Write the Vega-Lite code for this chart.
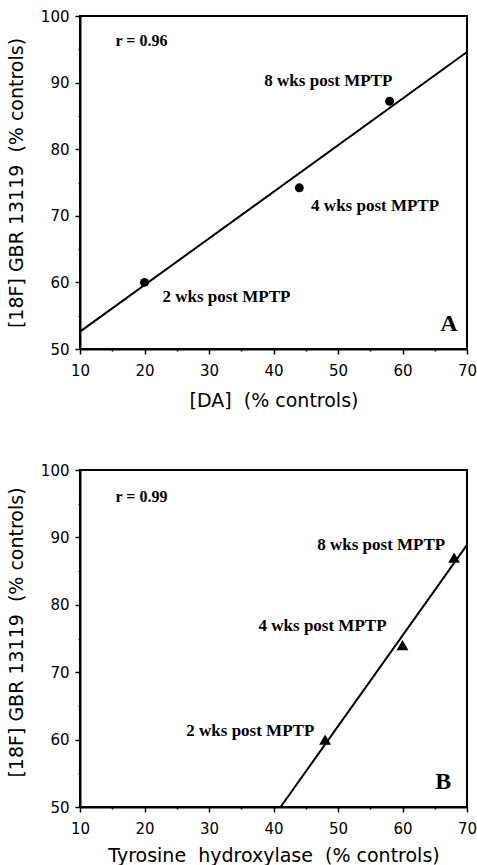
{
  "$schema": "https://vega.github.io/schema/vega-lite/v6.json",
  "background": "white",
  "padding": {"left": 6, "top": 8, "right": 4, "bottom": 1},
  "spacing": 51,
  "datasets": {
    "fitA": [{"x": 10, "y": 52.6}, {"x": 70, "y": 94.6}],
    "ptsA": [{"x": 20, "y": 60}, {"x": 44, "y": 74.2}, {"x": 58, "y": 87.2}],
    "labA": [
      {"x": 48.5, "y": 90.2, "label": "8 wks post MPTP"},
      {"x": 55.75, "y": 71.5, "label": "4 wks post MPTP"},
      {"x": 32.7, "y": 57.8, "label": "2 wks post MPTP"}
    ],
    "rA": [{"x": 15.5, "y": 96.2, "label": "r = 0.96"}],
    "letA": [{"x": 67.2, "y": 53.7, "label": "A"}],
    "fitB": [{"x": 41.1, "y": 50}, {"x": 70, "y": 88.9}],
    "ptsB": [{"x": 48, "y": 60}, {"x": 60, "y": 74}, {"x": 68, "y": 87}],
    "labB": [
      {"x": 56.7, "y": 88.8, "label": "8 wks post MPTP"},
      {"x": 47.6, "y": 76.9, "label": "4 wks post MPTP"},
      {"x": 36.4, "y": 61.3, "label": "2 wks post MPTP"}
    ],
    "rB": [{"x": 15.5, "y": 96.0, "label": "r = 0.99"}],
    "letB": [{"x": 66.3, "y": 53.7, "label": "B"}]
  },
  "vconcat": [
    {
      "width": 387,
      "height": 333,
      "encoding": {
        "x": {
          "field": "x", "type": "quantitative",
          "scale": {"domain": [10, 70], "nice": false, "zero": false},
          "axis": {
            "title": "[DA]\u00a0\u00a0(% controls)",
            "values": [10, 15, 20, 25, 30, 35, 40, 45, 50, 55, 60, 65, 70],
            "labelExpr": "datum.value % 10 === 0 ? datum.label : ''",
            "tickSize": {"condition": {"test": "datum.value % 10 !== 0", "value": 2}, "value": 5},
            "labelPadding": 9,
            "titlePadding": 13
          }
        },
        "y": {
          "field": "y", "type": "quantitative",
          "scale": {"domain": [50, 100], "nice": false, "zero": false},
          "axis": {
            "title": "[18F] GBR 13119\u00a0\u00a0(% controls)",
            "values": [50, 55, 60, 65, 70, 75, 80, 85, 90, 95, 100],
            "labelExpr": "datum.value % 10 === 0 ? datum.label : ''",
            "tickSize": {"condition": {"test": "datum.value % 10 !== 0", "value": 2}, "value": 5},
            "labelPadding": 6,
            "titlePadding": 14
          }
        }
      },
      "layer": [
        {"data": {"name": "fitA"}, "mark": {"type": "line", "color": "black", "strokeWidth": 2}},
        {"data": {"name": "ptsA"}, "mark": {"type": "point", "shape": "circle", "filled": true, "color": "black", "opacity": 1, "size": 80}},
        {"data": {"name": "labA"}, "mark": {"type": "text", "font": "Liberation Serif", "fontWeight": "bold", "fontSize": 17, "color": "black", "align": "center", "baseline": "middle"}, "encoding": {"text": {"field": "label"}}},
        {"data": {"name": "rA"}, "mark": {"type": "text", "font": "Liberation Serif", "fontWeight": "bold", "fontSize": 16, "color": "black", "align": "left", "baseline": "middle"}, "encoding": {"text": {"field": "label"}}},
        {"data": {"name": "letA"}, "mark": {"type": "text", "font": "Liberation Serif", "fontWeight": "bold", "fontSize": 24, "color": "black", "align": "center", "baseline": "middle"}, "encoding": {"text": {"field": "label"}}}
      ]
    },
    {
      "width": 387,
      "height": 337,
      "encoding": {
        "x": {
          "field": "x", "type": "quantitative",
          "scale": {"domain": [10, 70], "nice": false, "zero": false},
          "axis": {
            "title": "Tyrosine\u00a0\u00a0hydroxylase\u00a0\u00a0(% controls)",
            "values": [10, 15, 20, 25, 30, 35, 40, 45, 50, 55, 60, 65, 70],
            "labelExpr": "datum.value % 10 === 0 ? datum.label : ''",
            "tickSize": {"condition": {"test": "datum.value % 10 !== 0", "value": 2}, "value": 5},
            "labelPadding": 9,
            "titlePadding": 10
          }
        },
        "y": {
          "field": "y", "type": "quantitative",
          "scale": {"domain": [50, 100], "nice": false, "zero": false},
          "axis": {
            "title": "[18F] GBR 13119\u00a0\u00a0(% controls)",
            "titleY": 162,
            "values": [50, 55, 60, 65, 70, 75, 80, 85, 90, 95, 100],
            "labelExpr": "datum.value % 10 === 0 ? datum.label : ''",
            "tickSize": {"condition": {"test": "datum.value % 10 !== 0", "value": 2}, "value": 5},
            "labelPadding": 6,
            "titlePadding": 14
          }
        }
      },
      "layer": [
        {"data": {"name": "fitB"}, "mark": {"type": "line", "color": "black", "strokeWidth": 2}},
        {"data": {"name": "ptsB"}, "mark": {"type": "point", "shape": "triangle-up", "filled": true, "color": "black", "opacity": 1, "size": 140}},
        {"data": {"name": "labB"}, "mark": {"type": "text", "font": "Liberation Serif", "fontWeight": "bold", "fontSize": 17, "color": "black", "align": "center", "baseline": "middle"}, "encoding": {"text": {"field": "label"}}},
        {"data": {"name": "rB"}, "mark": {"type": "text", "font": "Liberation Serif", "fontWeight": "bold", "fontSize": 16, "color": "black", "align": "left", "baseline": "middle"}, "encoding": {"text": {"field": "label"}}},
        {"data": {"name": "letB"}, "mark": {"type": "text", "font": "Liberation Serif", "fontWeight": "bold", "fontSize": 24, "color": "black", "align": "center", "baseline": "middle"}, "encoding": {"text": {"field": "label"}}}
      ]
    }
  ],
  "config": {
    "view": {"stroke": "black", "strokeWidth": 2},
    "axis": {
      "grid": false,
      "domainColor": "black",
      "domainWidth": 2,
      "tickColor": "black",
      "tickWidth": 1.5,
      "labelFont": "DejaVu Sans",
      "labelFontSize": 15,
      "labelColor": "black",
      "labelFlush": false,
      "labelOverlap": false,
      "titleFont": "DejaVu Sans",
      "titleFontSize": 19,
      "titleFontWeight": "normal",
      "titleColor": "black"
    }
  }
}
